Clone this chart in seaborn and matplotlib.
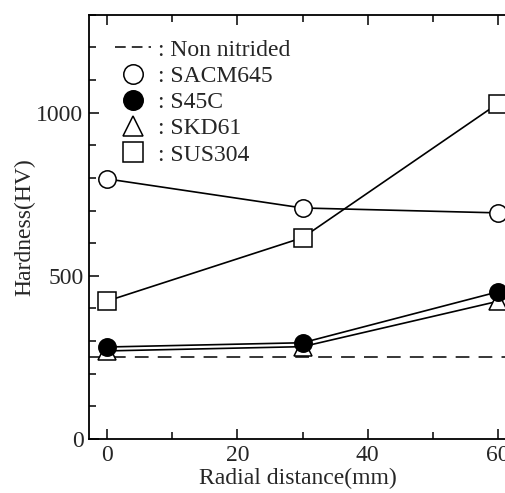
import pandas as pd
import seaborn as sns
import matplotlib
matplotlib.use('Agg')
import matplotlib.pyplot as plt
from matplotlib.lines import Line2D
from matplotlib.ticker import MultipleLocator

# data
radial = [0, 30, 60]
sacm645 = [797, 708, 693]
s45c = [282, 295, 451]
skd61 = [270, 283, 422]
sus304 = [423, 617, 1028]
non_nitrided = 251

materials = ['SACM645', 'S45C', 'SKD61', 'SUS304']
series = [sacm645, s45c, skd61, sus304]
markers = {'SACM645': ('o', 'white'), 'S45C': ('o', 'black'),
           'SKD61': ('^', 'white'), 'SUS304': ('s', 'white')}

df = pd.DataFrame({
    'Radial distance(mm)': radial * len(materials),
    'Hardness(HV)': [v for s in series for v in s],
    'material': [m for m in materials for _ in radial],
})

sns.set_style('ticks')
plt.rcParams['font.family'] = ['Liberation Serif', 'DejaVu Serif']

fig = plt.figure(figsize=(5.06, 4.93), dpi=100)
ax = fig.add_axes([0.176, 0.1095, 0.826, 0.8605])

ax.axhline(non_nitrided, color='black', lw=1.1, ls=(0, (9, 6)), zorder=1)

# draw SKD61 under S45C so the filled circles sit on top
for m in ['SUS304', 'SACM645', 'SKD61', 'S45C']:
    mk, fc = markers[m]
    sns.lineplot(data=df[df.material == m], x='Radial distance(mm)', y='Hardness(HV)',
                 ax=ax, color='black', lw=1.2, marker=mk, markersize=12.5 if mk != '^' else 13,
                 markerfacecolor=fc, markeredgecolor='black', markeredgewidth=1.1,
                 clip_on=False, zorder=3)

ax.set_xlim(-2.8, 61.4)
ax.set_ylim(0, 1300)
ax.xaxis.set_major_locator(MultipleLocator(20))
ax.xaxis.set_minor_locator(MultipleLocator(10))
ax.yaxis.set_major_locator(MultipleLocator(500))
ax.yaxis.set_minor_locator(MultipleLocator(100))
ax.tick_params(which='both', direction='in', top=True, right=False, labelsize=17,
               width=1.1, color='black', pad=4)
ax.tick_params(which='major', length=7)
ax.tick_params(which='minor', length=5)
for side in ['left', 'bottom', 'top']:
    ax.spines[side].set_visible(True)
    ax.spines[side].set_linewidth(1.3)
    ax.spines[side].set_color('black')
ax.spines['right'].set_visible(False)
ax.set_xlabel('Radial distance(mm)', fontsize=17, labelpad=2)
ax.set_ylabel('Hardness(HV)', fontsize=17, labelpad=1)

handles = [Line2D([], [], color='black', lw=1.1, ls=(0, (7, 4)))]
for m in materials:
    mk, fc = markers[m]
    handles.append(Line2D([], [], ls='none', marker=mk, markersize=14,
                          markerfacecolor=fc, markeredgecolor='black', markeredgewidth=1.1))
labels = [': Non nitrided'] + [': ' + m for m in materials]
ax.legend(handles, labels, loc='upper left', bbox_to_anchor=(0.04, 0.965), frameon=False,
          fontsize=17, handlelength=1.5, handletextpad=0.3, labelspacing=0.2,
          borderaxespad=0)

fig.savefig('out.png', dpi=100)
